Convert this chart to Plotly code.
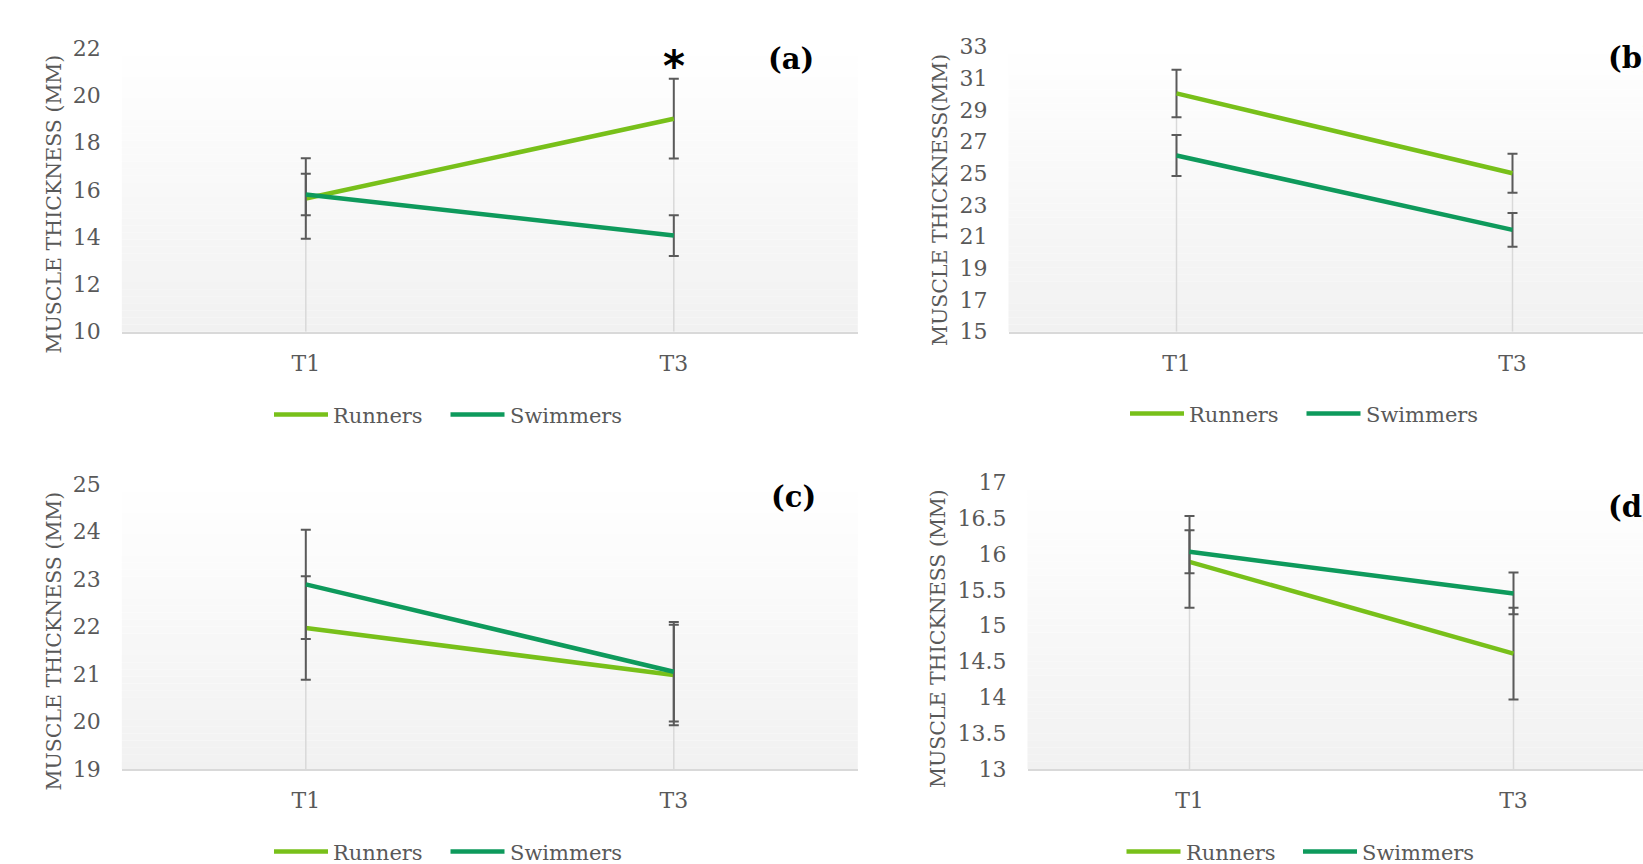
import plotly.graph_objects as go

W, H = 1643, 864

# ---------------- data ----------------
times = ["T1", "T3"]
series = ["Runners", "Swimmers"]

# (a)
a_runners = [15.64, 19.02]
a_runners_err = [1.70, 1.69]
a_swimmers = [15.81, 14.07]
a_swimmers_err = [0.88, 0.86]

# (b)
b_runners = [30.05, 25.01]
b_runners_err = [1.50, 1.23]
b_swimmers = [26.13, 21.43]
b_swimmers_err = [1.30, 1.07]

# (c)
c_runners = [21.97, 20.98]
c_runners_err = [1.09, 1.06]
c_swimmers = [22.89, 21.05]
c_swimmers_err = [1.15, 1.05]

# (d)
d_runners = [15.89, 14.61]
d_runners_err = [0.64, 0.64]
d_swimmers = [16.03, 15.45]
d_swimmers_err = [0.30, 0.29]

panel_labels = ["(a)", "(b)", "(c)", "(d)"]
y_titles = ["MUSCLE THICKNESS (MM)", "MUSCLE THICKNESS(MM)",
            "MUSCLE THICKNESS (MM)", "MUSCLE THICKNESS (MM)"]
y_ranges = [[10, 22], [15, 33], [19, 25], [13, 17]]
y_dticks = [2, 2, 1, 0.5]

panels = [
    (a_runners, a_runners_err, a_swimmers, a_swimmers_err),
    (b_runners, b_runners_err, b_swimmers, b_swimmers_err),
    (c_runners, c_runners_err, c_swimmers, c_swimmers_err),
    (d_runners, d_runners_err, d_swimmers, d_swimmers_err),
]

# ---------------- style / layout ----------------
COLORS = ["#78c01a", "#0e9a5c"]
ERR_C = "#5a5a5a"
TXT = "#595959"
FONT = "DejaVu Serif"


def px_x(p):
    return p / W


def px_y(p):
    return 1 - p / H


# (left px, category spacing px, top px, bottom px)
geom = [
    (121.8, 368.0, 48.3, 331.7),
    (1008.5, 336.0, 46.7, 331.7),
    (121.8, 368.0, 484.3, 769.0),
    (1027.5, 324.0, 482.3, 769.0),
]
# legend: x of first sample line start, y centre
legend_pos = [(274, 414.5), (1130, 413.5), (274, 851.5), (1126.5, 851.5)]
LEG_LINE = 54
LEG_STEP = 176.5
label_pos = [(791, 58.5, "center"), (1606, 57.5, "left"), (793.5, 496.5, "center"), (1606, 506.5, "left")]
ytitle_pos = [(53.5, 204), (940, 200), (53.5, 641), (937.5, 638.5)]

fig = go.Figure()
layout = dict(
    width=W, height=H,
    margin=dict(l=0, r=0, t=0, b=0, pad=0, autoexpand=False),
    paper_bgcolor="white", plot_bgcolor="white",
    font=dict(family=FONT, color=TXT, size=20),
    hovermode=False, showlegend=False,
)
shapes = []
annotations = []

for k, (run, run_e, swim, swim_e) in enumerate(panels):
    i = k + 1
    sfx = "" if i == 1 else str(i)
    xa, ya = "x" + sfx, "y" + sfx
    left, sp, top, bot = geom[k]
    right_px = min(left + 2 * sp, W)
    xmax = -0.5 + (right_px - left) / sp

    # drop lines
    for j, t in enumerate(times):
        fig.add_trace(go.Scatter(
            x=[t, t], y=[y_ranges[k][0], max(run[j], swim[j])],
            mode="lines", line=dict(color="#d9d9d9", width=1.5),
            hoverinfo="skip", xaxis=xa, yaxis=ya))

    for s, (vals, errs) in enumerate([(run, run_e), (swim, swim_e)]):
        fig.add_trace(go.Scatter(
            x=times, y=vals, name=series[s], mode="lines",
            line=dict(color=COLORS[s], width=4.5),
            error_y=dict(type="data", array=errs, color=ERR_C, thickness=2, width=5),
            xaxis=xa, yaxis=ya))

    layout["xaxis" + sfx] = dict(
        domain=[px_x(left), px_x(right_px)], range=[-0.5, xmax],
        type="category", categoryorder="array", categoryarray=times,
        anchor=ya, showgrid=False, zeroline=False, automargin=False,
        showline=True, linecolor="#d9d9d9", linewidth=2,
        ticks="", ticklabelstandoff=11,
        tickfont=dict(family=FONT, size=22, color=TXT), fixedrange=True)
    layout["yaxis" + sfx] = dict(
        domain=[px_y(bot), px_y(top)], range=y_ranges[k],
        tick0=y_ranges[k][0], dtick=y_dticks[k],
        anchor=xa, showgrid=False, zeroline=False, showline=False, automargin=False,
        ticks="", ticklabelstandoff=20,
        tickfont=dict(family=FONT, size=22, color=TXT), fixedrange=True)

    # custom legend (sample line + name)
    lx, ly = legend_pos[k]
    for s in range(len(series)):
        x0 = lx + s * LEG_STEP
        shapes.append(dict(
            type="line", xref="paper", yref="paper",
            x0=px_x(x0), x1=px_x(x0 + LEG_LINE), y0=px_y(ly), y1=px_y(ly),
            line=dict(color=COLORS[s], width=4.5)))
        annotations.append(dict(
            text=series[s], xref="paper", yref="paper",
            x=px_x(x0 + LEG_LINE + 3), y=px_y(ly + 1), xanchor="left", yanchor="middle",
            showarrow=False, font=dict(family=FONT, size=21, color=TXT)))

    # background gradient (white at top -> light gray at bottom)
    N = 40
    for n in range(N):
        f = (n + 0.5) / N  # 0 bottom -> 1 top
        g = int(round(0xf1 + (0xff - 0xf1) * f))
        shapes.append(dict(
            type="rect", xref=xa + " domain", yref=ya + " domain",
            x0=0, x1=1, y0=n / N, y1=(n + 1) / N,
            fillcolor=f"rgb({g},{g},{g})", line=dict(width=0), layer="below"))

    # panel label
    px_, py_, anc = label_pos[k]
    annotations.append(dict(
        text="<b>" + panel_labels[k] + "</b>", xref="paper", yref="paper",
        x=px_x(px_), y=px_y(py_), xanchor=anc, yanchor="middle", showarrow=False,
        font=dict(family=FONT, size=29, color="black")))

    # y title
    tx, ty = ytitle_pos[k]
    annotations.append(dict(
        text=y_titles[k], xref="paper", yref="paper", x=px_x(tx), y=px_y(ty),
        xanchor="center", yanchor="middle", textangle=-90, showarrow=False,
        font=dict(family=FONT, size=20.5, color=TXT)))

# significance star on (a), T3
annotations.append(dict(
    text="<b>*</b>", xref="x", yref="paper", x="T3", y=px_y(67),
    xanchor="center", yanchor="middle", showarrow=False,
    font=dict(family="DejaVu Sans", size=42, color="black")))

layout["shapes"] = shapes
layout["annotations"] = annotations
fig.update_layout(**layout)
fig.write_html("out.html", config={"displayModeBar": False},
               post_script="document.body.style.margin='0';")
